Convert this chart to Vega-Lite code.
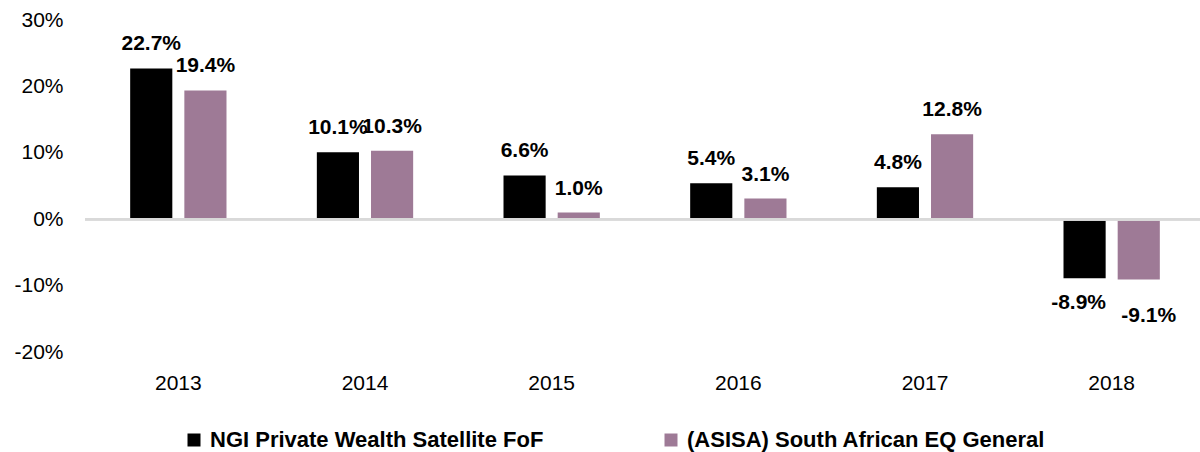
{
  "$schema": "https://vega.github.io/schema/vega-lite/v6.json",
  "width": 1120,
  "height": 332,
  "autosize": "none",
  "padding": {"left": 85, "top": 20, "right": 0, "bottom": 100},
  "background": "white",
  "config": {
    "view": {"stroke": null},
    "font": "Liberation Sans"
  },
  "data": {
    "values": [
      {"year": "2013", "series": "NGI Private Wealth Satellite FoF", "value": 0.227},
      {"year": "2013", "series": "(ASISA) South African EQ General", "value": 0.194},
      {"year": "2014", "series": "NGI Private Wealth Satellite FoF", "value": 0.101},
      {"year": "2014", "series": "(ASISA) South African EQ General", "value": 0.103},
      {"year": "2015", "series": "NGI Private Wealth Satellite FoF", "value": 0.066},
      {"year": "2015", "series": "(ASISA) South African EQ General", "value": 0.010},
      {"year": "2016", "series": "NGI Private Wealth Satellite FoF", "value": 0.054},
      {"year": "2016", "series": "(ASISA) South African EQ General", "value": 0.031},
      {"year": "2017", "series": "NGI Private Wealth Satellite FoF", "value": 0.048},
      {"year": "2017", "series": "(ASISA) South African EQ General", "value": 0.128},
      {"year": "2018", "series": "NGI Private Wealth Satellite FoF", "value": -0.089},
      {"year": "2018", "series": "(ASISA) South African EQ General", "value": -0.091}
    ]
  },
  "transform": [
    {"calculate": "replace(format(datum.value, '.1%'), '\u2212', '-')", "as": "label"}
  ],
  "encoding": {
    "x": {
      "field": "year", "type": "nominal", "title": null,
      "scale": {"paddingInner": 0.484, "paddingOuter": 0.242},
      "axis": {"orient": "bottom", "domain": false, "ticks": false, "labelAngle": 0, "labelFontSize": 21, "labelColor": "#000", "labelPadding": 20, "labelFont": "Liberation Sans"}
    },
    "xOffset": {
      "field": "series", "type": "nominal",
      "sort": ["NGI Private Wealth Satellite FoF", "(ASISA) South African EQ General"],
      "scale": {"paddingInner": 0.222, "paddingOuter": 0}
    },
    "y": {
      "field": "value", "type": "quantitative", "title": null,
      "scale": {"domain": [-0.2, 0.3], "nice": false, "zero": false},
      "axis": {"values": [-0.2, -0.1, 0, 0.1, 0.2, 0.3], "format": ".0%", "labelExpr": "replace(datum.label, '\u2212', '-')", "domain": false, "ticks": false, "grid": false, "labelFontSize": 21, "labelColor": "#000", "labelPadding": 22, "labelFont": "Liberation Sans"}
    }
  },
  "layer": [
    {
      "mark": {"type": "bar"},
      "encoding": {
        "color": {
          "field": "series", "type": "nominal",
          "sort": ["NGI Private Wealth Satellite FoF", "(ASISA) South African EQ General"],
          "scale": {"domain": ["NGI Private Wealth Satellite FoF", "(ASISA) South African EQ General"], "range": ["#000000", "#9E7A96"]},
          "legend": {
            "title": null, "orient": "none", "legendX": 98, "legendY": 409, "direction": "horizontal", "padding": 0,
            "symbolType": "square", "symbolSize": 169, "symbolStrokeWidth": 0,
            "labelFontSize": 22, "labelFontWeight": "bold", "labelColor": "#000", "labelFont": "Liberation Sans",
            "labelOffset": 5, "columnPadding": 116, "labelLimit": 600
          }
        }
      }
    },
    {
      "mark": {"type": "rule", "color": "#d9d9d9", "strokeWidth": 2},
      "encoding": {"y": {"datum": 0}, "x": null, "xOffset": null}
    },
    {
      "transform": [{"filter": "datum.value >= 0"}],
      "mark": {"type": "text", "fontWeight": "bold", "fontSize": 21, "baseline": "alphabetic", "dy": -18, "color": "#000", "font": "Liberation Sans"},
      "encoding": {"text": {"field": "label", "type": "nominal"}}
    },
    {
      "transform": [{"filter": "datum.value < 0 && datum.series == 'NGI Private Wealth Satellite FoF'"}],
      "mark": {"type": "text", "fontWeight": "bold", "fontSize": 21, "baseline": "alphabetic", "dy": 31, "dx": -6, "color": "#000", "font": "Liberation Sans"},
      "encoding": {"text": {"field": "label", "type": "nominal"}}
    },
    {
      "transform": [{"filter": "datum.value < 0 && datum.series != 'NGI Private Wealth Satellite FoF'"}],
      "mark": {"type": "text", "fontWeight": "bold", "fontSize": 21, "baseline": "alphabetic", "dy": 42, "dx": 10, "color": "#000", "font": "Liberation Sans"},
      "encoding": {"text": {"field": "label", "type": "nominal"}}
    }
  ]
}
